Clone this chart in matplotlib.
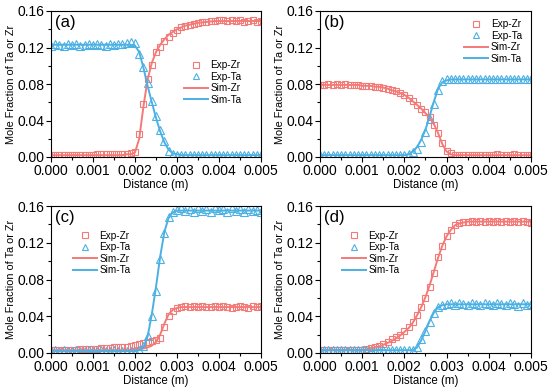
import matplotlib
matplotlib.use("Agg")
import matplotlib.pyplot as plt
from matplotlib.ticker import MultipleLocator, FormatStrFormatter

plt.rcParams['font.family'] = ['Liberation Sans', 'DejaVu Sans']

# Distance grid (m)
distance = [0.0000, 0.0001, 0.0002, 0.0003, 0.0004, 0.0005, 0.0006, 0.0007, 0.0008, 0.0009,
            0.0010, 0.0011, 0.0012, 0.0013, 0.0014, 0.0015, 0.0016, 0.0017, 0.0018, 0.0019,
            0.0020, 0.0021, 0.0022, 0.0023, 0.0024, 0.0025, 0.0026, 0.0027, 0.0028, 0.0029,
            0.0030, 0.0031, 0.0032, 0.0033, 0.0034, 0.0035, 0.0036, 0.0037, 0.0038, 0.0039,
            0.0040, 0.0041, 0.0042, 0.0043, 0.0044, 0.0045, 0.0046, 0.0047, 0.0048, 0.0049,
            0.0050]

# Panel (a)
a_exp_zr = [0.002, 0.002, 0.002, 0.002, 0.002, 0.002, 0.002, 0.002, 0.002, 0.002,
            0.002, 0.003, 0.003, 0.003, 0.003, 0.003, 0.003, 0.003, 0.003, 0.004,
            0.006, 0.025, 0.058, 0.085, 0.101, 0.115, 0.121, 0.127, 0.132, 0.136,
            0.139, 0.142, 0.144, 0.145, 0.146, 0.147, 0.148, 0.148, 0.149, 0.149,
            0.150, 0.150, 0.149, 0.150, 0.149, 0.150, 0.148, 0.149, 0.150, 0.148,
            0.149]
a_exp_ta = [0.122, 0.124, 0.123, 0.122, 0.124, 0.123, 0.124, 0.122, 0.123, 0.124,
            0.123, 0.124, 0.123, 0.122, 0.124, 0.123, 0.124, 0.124, 0.125, 0.126,
            0.125, 0.113, 0.099, 0.081, 0.061, 0.045, 0.030, 0.017, 0.007, 0.003,
            0.002, 0.002, 0.002, 0.002, 0.002, 0.002, 0.002, 0.002, 0.002, 0.002,
            0.002, 0.002, 0.002, 0.002, 0.002, 0.002, 0.002, 0.002, 0.002, 0.002,
            0.002]
a_sim_zr = [0.002, 0.002, 0.002, 0.002, 0.002, 0.002, 0.002, 0.002, 0.002, 0.002,
            0.002, 0.002, 0.002, 0.002, 0.002, 0.002, 0.002, 0.002, 0.003, 0.003,
            0.005, 0.020, 0.055, 0.085, 0.103, 0.115, 0.123, 0.129, 0.134, 0.137,
            0.140, 0.142, 0.144, 0.145, 0.146, 0.147, 0.1475, 0.148, 0.1485, 0.149,
            0.149, 0.149, 0.149, 0.149, 0.149, 0.149, 0.149, 0.149, 0.149, 0.149,
            0.149]
a_sim_ta = [0.123, 0.123, 0.123, 0.123, 0.123, 0.123, 0.123, 0.123, 0.123, 0.123,
            0.123, 0.123, 0.123, 0.123, 0.123, 0.123, 0.123, 0.123, 0.123, 0.123,
            0.122, 0.115, 0.098, 0.078, 0.060, 0.043, 0.028, 0.016, 0.008, 0.004,
            0.003, 0.002, 0.002, 0.002, 0.002, 0.002, 0.002, 0.002, 0.002, 0.002,
            0.002, 0.002, 0.002, 0.002, 0.002, 0.002, 0.002, 0.002, 0.002, 0.002,
            0.002]

# Panel (b)
b_exp_zr = [0.079, 0.079, 0.080, 0.079, 0.080, 0.079, 0.080, 0.079, 0.079, 0.079,
            0.078, 0.078, 0.078, 0.077, 0.077, 0.076, 0.075, 0.073, 0.072, 0.070,
            0.068, 0.065, 0.061, 0.057, 0.053, 0.049, 0.044, 0.035, 0.026, 0.015,
            0.007, 0.004, 0.002, 0.002, 0.002, 0.002, 0.002, 0.002, 0.002, 0.002,
            0.002, 0.002, 0.003, 0.002, 0.002, 0.002, 0.003, 0.002, 0.002, 0.002,
            0.002]
b_exp_ta = [0.002, 0.002, 0.002, 0.002, 0.002, 0.002, 0.002, 0.002, 0.002, 0.002,
            0.002, 0.002, 0.002, 0.002, 0.002, 0.002, 0.002, 0.002, 0.002, 0.002,
            0.002, 0.003, 0.005, 0.009, 0.016, 0.027, 0.042, 0.058, 0.073, 0.083,
            0.085, 0.086, 0.086, 0.085, 0.086, 0.085, 0.086, 0.085, 0.086, 0.085,
            0.086, 0.085, 0.086, 0.085, 0.086, 0.085, 0.086, 0.085, 0.086, 0.085,
            0.086]
b_sim_zr = [0.079, 0.079, 0.079, 0.079, 0.079, 0.079, 0.079, 0.079, 0.079, 0.079,
            0.078, 0.078, 0.078, 0.077, 0.077, 0.076, 0.075, 0.073, 0.072, 0.070,
            0.068, 0.065, 0.061, 0.057, 0.053, 0.048, 0.043, 0.036, 0.026, 0.014,
            0.006, 0.003, 0.002, 0.002, 0.002, 0.002, 0.002, 0.002, 0.002, 0.002,
            0.002, 0.002, 0.002, 0.002, 0.002, 0.002, 0.002, 0.002, 0.002, 0.002,
            0.002]
b_sim_ta = [0.002, 0.002, 0.002, 0.002, 0.002, 0.002, 0.002, 0.002, 0.002, 0.002,
            0.002, 0.002, 0.002, 0.002, 0.002, 0.002, 0.002, 0.002, 0.002, 0.002,
            0.002, 0.003, 0.006, 0.011, 0.019, 0.030, 0.045, 0.061, 0.075, 0.082,
            0.084, 0.085, 0.085, 0.085, 0.085, 0.085, 0.085, 0.085, 0.085, 0.085,
            0.085, 0.085, 0.085, 0.085, 0.085, 0.085, 0.085, 0.085, 0.085, 0.085,
            0.085]

# Panel (c)
c_exp_zr = [0.003, 0.003, 0.003, 0.003, 0.003, 0.003, 0.003, 0.004, 0.004, 0.004,
            0.004, 0.004, 0.005, 0.005, 0.005, 0.006, 0.006, 0.007, 0.007, 0.008,
            0.009, 0.010, 0.011, 0.012, 0.013, 0.014, 0.016, 0.028, 0.040, 0.046,
            0.049, 0.050, 0.051, 0.050, 0.051, 0.050, 0.051, 0.050, 0.050, 0.051,
            0.050, 0.051, 0.050, 0.049, 0.050, 0.051, 0.050, 0.049, 0.051, 0.050,
            0.051]
c_exp_ta = [0.002, 0.003, 0.002, 0.003, 0.002, 0.002, 0.003, 0.002, 0.002, 0.003,
            0.002, 0.002, 0.003, 0.002, 0.002, 0.003, 0.002, 0.002, 0.002, 0.002,
            0.002, 0.003, 0.008, 0.018, 0.040, 0.068, 0.102, 0.131, 0.148, 0.154,
            0.156, 0.158, 0.155, 0.157, 0.154, 0.158, 0.155, 0.157, 0.154, 0.158,
            0.156, 0.157, 0.154, 0.158, 0.155, 0.157, 0.154, 0.157, 0.155, 0.156,
            0.153]
c_sim_zr = [0.003, 0.003, 0.003, 0.003, 0.003, 0.003, 0.003, 0.003, 0.003, 0.003,
            0.003, 0.003, 0.003, 0.003, 0.003, 0.003, 0.003, 0.003, 0.003, 0.003,
            0.003, 0.004, 0.005, 0.006, 0.008, 0.012, 0.020, 0.032, 0.042, 0.047,
            0.049, 0.050, 0.050, 0.050, 0.050, 0.050, 0.050, 0.050, 0.050, 0.050,
            0.050, 0.050, 0.050, 0.050, 0.050, 0.050, 0.050, 0.050, 0.050, 0.050,
            0.050]
c_sim_ta = [0.002, 0.002, 0.002, 0.002, 0.002, 0.002, 0.002, 0.002, 0.002, 0.002,
            0.002, 0.002, 0.002, 0.002, 0.002, 0.002, 0.002, 0.002, 0.002, 0.002,
            0.002, 0.003, 0.006, 0.018, 0.042, 0.072, 0.105, 0.132, 0.147, 0.153,
            0.155, 0.155, 0.155, 0.155, 0.155, 0.155, 0.155, 0.155, 0.155, 0.155,
            0.155, 0.155, 0.155, 0.155, 0.155, 0.155, 0.155, 0.155, 0.155, 0.155,
            0.155]

# Panel (d)
d_exp_zr = [0.003, 0.003, 0.003, 0.003, 0.003, 0.003, 0.003, 0.003, 0.003, 0.003,
            0.003, 0.004, 0.005, 0.006, 0.008, 0.010, 0.012, 0.015, 0.017, 0.020,
            0.024, 0.028, 0.034, 0.041, 0.050, 0.060, 0.072, 0.087, 0.104, 0.117,
            0.127, 0.134, 0.139, 0.141, 0.143, 0.143, 0.144, 0.143, 0.144, 0.143,
            0.144, 0.143, 0.144, 0.143, 0.144, 0.143, 0.144, 0.143, 0.144, 0.143,
            0.142]
d_exp_ta = [0.003, 0.003, 0.003, 0.003, 0.003, 0.003, 0.003, 0.003, 0.003, 0.003,
            0.003, 0.003, 0.003, 0.003, 0.003, 0.003, 0.003, 0.003, 0.003, 0.003,
            0.003, 0.003, 0.003, 0.007, 0.015, 0.024, 0.034, 0.044, 0.050, 0.052,
            0.053, 0.054, 0.052, 0.054, 0.053, 0.052, 0.054, 0.053, 0.052, 0.054,
            0.053, 0.052, 0.054, 0.053, 0.052, 0.054, 0.053, 0.051, 0.054, 0.052,
            0.053]
d_sim_zr = [0.003, 0.003, 0.003, 0.003, 0.003, 0.003, 0.003, 0.003, 0.003, 0.003,
            0.003, 0.004, 0.005, 0.006, 0.007, 0.009, 0.011, 0.013, 0.016, 0.019,
            0.023, 0.027, 0.033, 0.041, 0.050, 0.061, 0.074, 0.089, 0.104, 0.117,
            0.127, 0.134, 0.139, 0.141, 0.142, 0.143, 0.143, 0.143, 0.143, 0.143,
            0.143, 0.143, 0.143, 0.143, 0.143, 0.143, 0.143, 0.143, 0.143, 0.143,
            0.143]
d_sim_ta = [0.003, 0.003, 0.003, 0.003, 0.003, 0.003, 0.003, 0.003, 0.003, 0.003,
            0.003, 0.003, 0.003, 0.003, 0.003, 0.003, 0.003, 0.003, 0.003, 0.003,
            0.003, 0.003, 0.003, 0.006, 0.014, 0.024, 0.035, 0.044, 0.050, 0.052,
            0.053, 0.053, 0.053, 0.053, 0.053, 0.053, 0.053, 0.053, 0.053, 0.053,
            0.053, 0.053, 0.053, 0.053, 0.053, 0.053, 0.053, 0.053, 0.053, 0.053,
            0.053]

panels = [
    ("(a)", a_exp_zr, a_exp_ta, a_sim_zr, a_sim_ta),
    ("(b)", b_exp_zr, b_exp_ta, b_sim_zr, b_sim_ta),
    ("(c)", c_exp_zr, c_exp_ta, c_sim_zr, c_sim_ta),
    ("(d)", d_exp_zr, d_exp_ta, d_sim_zr, d_sim_ta),
]

RED = '#F47A78'
BLUE = '#4BB0E3'

fig = plt.figure(figsize=(5.5, 3.92), dpi=100)
W, H = 550.0, 392.0
rects = [(51, 11, 261, 157), (320, 11, 531, 157), (51, 206, 261, 353), (320, 206, 531, 353)]
legend_spec = [
    dict(loc='upper left', bbox_to_anchor=(0.60, 0.71)),
    dict(loc='upper right', bbox_to_anchor=(0.99, 0.99)),
    dict(loc='upper left', bbox_to_anchor=(0.07, 0.88)),
    dict(loc='upper left', bbox_to_anchor=(0.07, 0.88)),
]

for (label, ezr, eta, szr, sta), (l, t, r, b), lspec in zip(panels, rects, legend_spec):
    ax = fig.add_axes([l / W, 1 - b / H, (r - l) / W, (b - t) / H])
    ax.plot(distance, ezr, linestyle='none', marker='s', markersize=4.8,
            markerfacecolor='none', markeredgecolor=RED, markeredgewidth=0.8, label='Exp-Zr')
    ax.plot(distance, eta, linestyle='none', marker='^', markersize=5.4,
            markerfacecolor='none', markeredgecolor=BLUE, markeredgewidth=0.8, label='Exp-Ta')
    ax.plot(distance, szr, color=RED, linewidth=1.4, label='Sim-Zr')
    ax.plot(distance, sta, color=BLUE, linewidth=1.4, label='Sim-Ta')
    ax.set_xlim(0, 0.005)
    ax.set_ylim(0, 0.16)
    ax.xaxis.set_major_locator(MultipleLocator(0.001))
    ax.xaxis.set_minor_locator(MultipleLocator(0.0005))
    ax.yaxis.set_major_locator(MultipleLocator(0.04))
    ax.yaxis.set_minor_locator(MultipleLocator(0.02))
    ax.xaxis.set_major_formatter(FormatStrFormatter('%.3f'))
    ax.yaxis.set_major_formatter(FormatStrFormatter('%.2f'))
    ax.tick_params(which='both', direction='out', labelsize=10, width=0.8)
    ax.tick_params(which='major', length=3.5, pad=1.5)
    ax.tick_params(which='minor', length=2)
    for s in ax.spines.values():
        s.set_linewidth(0.8)
    ax.set_xlabel('Distance (m)', fontsize=8.3, labelpad=1)
    ax.set_ylabel('Mole Fraction of Ta or Zr', fontsize=7.8, labelpad=1)
    ax.text(0.02, 0.97, label, transform=ax.transAxes, fontsize=12, va='top', ha='left')
    ax.legend(frameon=False, fontsize=7.2, handlelength=2.4, handletextpad=0.25,
              labelspacing=0.15, borderpad=0.2, markerscale=0.8, **lspec)

fig.savefig('out.png', dpi=100)
